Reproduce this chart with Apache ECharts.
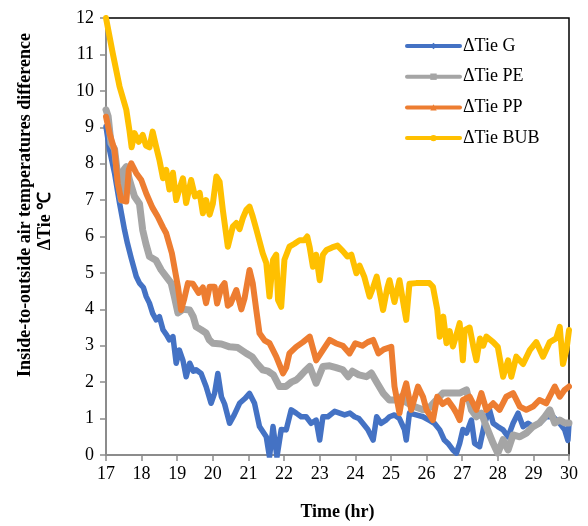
<!DOCTYPE html>
<html>
<head>
<meta charset="utf-8">
<title>Inside-to-outside air temperature difference</title>
<script src="https://cdn.jsdelivr.net/npm/echarts@6/dist/echarts.min.js"></script>
<style>
  html, body { margin: 0; padding: 0; background: #fff; }
  #chart { width: 588px; height: 526px; }
</style>
</head>
<body>
<div id="chart"></div>
<script>
  // 数据: [时间(hr), ΔTie(℃)]
  var seriesNames = ['ΔTie G', 'ΔTie PE', 'ΔTie PP', 'ΔTie BUB'];
  var xTicks = [17, 18, 19, 20, 21, 22, 23, 24, 25, 26, 27, 28, 29, 30];
  var yTicks = [0, 1, 2, 3, 4, 5, 6, 7, 8, 9, 10, 11, 12];

  var dataG = [[17.0,9.02],[17.1,8.38],[17.24,7.74],[17.38,6.92],[17.52,6.18],[17.6,5.82],[17.71,5.4],[17.85,4.9],[17.94,4.72],[18.05,4.6],[18.13,4.35],[18.22,4.17],[18.31,3.89],[18.41,3.71],[18.5,3.8],[18.6,3.44],[18.7,3.3],[18.78,3.16],[18.88,3.25],[18.97,2.52],[19.06,2.88],[19.16,2.6],[19.25,2.15],[19.35,2.52],[19.45,2.3],[19.53,2.34],[19.67,2.24],[19.81,1.88],[19.95,1.42],[20.05,1.7],[20.14,2.24],[20.24,1.6],[20.33,1.4],[20.47,0.87],[20.6,1.1],[20.75,1.42],[20.9,1.55],[21.03,1.69],[21.17,1.42],[21.31,0.78],[21.5,0.5],[21.59,-0.05],[21.69,0.78],[21.8,-0.05],[21.92,0.7],[22.06,0.69],[22.2,1.24],[22.34,1.15],[22.48,1.05],[22.62,1.05],[22.76,0.87],[22.9,0.96],[23.0,0.41],[23.09,1.05],[23.23,1.05],[23.42,1.2],[23.56,1.15],[23.7,1.1],[23.85,1.15],[23.98,1.05],[24.1,1.0],[24.21,0.87],[24.35,0.7],[24.5,0.41],[24.6,1.05],[24.72,0.87],[24.85,0.95],[24.96,1.05],[25.1,1.1],[25.24,1.0],[25.38,0.7],[25.43,0.41],[25.52,1.15],[25.71,1.1],[25.9,1.05],[26.08,0.95],[26.22,0.87],[26.37,0.69],[26.5,0.41],[26.62,0.3],[26.74,0.14],[26.84,0.05],[26.93,0.32],[27.02,0.7],[27.12,0.6],[27.26,0.96],[27.35,0.32],[27.49,0.23],[27.63,0.87],[27.77,1.24],[27.87,0.87],[28.0,0.78],[28.15,0.69],[28.29,0.5],[28.43,0.87],[28.57,1.15],[28.71,0.78],[28.85,0.87],[28.99,0.78],[29.17,0.87],[29.36,1.05],[29.55,1.05],[29.74,0.87],[29.88,0.69],[29.97,0.4],[30.0,0.87]];

  var dataPE = [[17.0,9.48],[17.06,9.3],[17.14,8.56],[17.24,8.4],[17.33,7.65],[17.43,7.0],[17.5,7.83],[17.57,7.92],[17.66,7.55],[17.8,7.1],[17.94,6.9],[18.03,6.18],[18.12,5.8],[18.22,5.45],[18.4,5.35],[18.55,5.08],[18.69,4.9],[18.83,4.72],[18.92,4.35],[19.02,3.9],[19.16,4.0],[19.35,3.98],[19.45,3.8],[19.53,3.52],[19.67,3.44],[19.81,3.35],[19.9,3.16],[20.0,3.07],[20.24,3.05],[20.47,2.97],[20.7,2.95],[20.94,2.79],[21.1,2.7],[21.25,2.5],[21.4,2.34],[21.55,2.3],[21.7,2.2],[21.87,1.88],[22.05,1.88],[22.2,2.0],[22.34,2.06],[22.44,2.15],[22.58,2.3],[22.72,2.43],[22.9,1.97],[23.09,2.43],[23.28,2.45],[23.46,2.4],[23.65,2.34],[23.8,2.15],[23.92,2.3],[24.1,2.2],[24.31,2.15],[24.45,2.25],[24.6,2.0],[24.78,1.7],[24.96,1.51],[25.15,1.51],[25.29,1.6],[25.43,1.45],[25.6,1.35],[25.9,1.24],[26.08,1.3],[26.22,1.45],[26.46,1.7],[26.65,1.7],[26.93,1.7],[27.12,1.79],[27.26,1.24],[27.4,1.05],[27.54,1.15],[27.68,0.78],[27.87,0.32],[28.0,0.05],[28.15,0.42],[28.29,0.14],[28.43,0.55],[28.62,0.5],[28.8,0.6],[28.99,0.78],[29.17,0.88],[29.32,1.05],[29.46,1.24],[29.6,0.88],[29.74,0.96],[29.88,0.88],[30.0,0.88]];

  var dataPP = [[17.0,9.29],[17.1,8.83],[17.24,8.38],[17.33,7.46],[17.43,7.0],[17.57,6.96],[17.64,7.83],[17.71,8.01],[17.85,7.74],[17.99,7.55],[18.13,7.18],[18.3,6.8],[18.45,6.55],[18.6,6.25],[18.69,6.09],[18.85,5.54],[18.95,5.0],[19.02,4.62],[19.11,3.98],[19.2,4.3],[19.3,4.72],[19.44,4.7],[19.6,4.45],[19.72,4.6],[19.81,4.17],[19.91,4.62],[20.05,4.62],[20.12,4.16],[20.24,4.6],[20.33,4.72],[20.42,4.1],[20.5,4.16],[20.66,4.53],[20.8,4.0],[20.89,4.3],[21.03,5.08],[21.12,4.72],[21.22,3.98],[21.31,3.34],[21.45,3.15],[21.59,3.07],[21.78,2.7],[21.97,2.24],[22.06,2.4],[22.15,2.79],[22.34,2.97],[22.53,3.1],[22.72,3.25],[22.9,2.6],[23.09,2.88],[23.28,3.16],[23.45,3.07],[23.65,3.0],[23.84,2.79],[24.0,3.07],[24.2,3.0],[24.35,3.1],[24.5,3.16],[24.65,2.79],[24.8,2.9],[25.01,2.97],[25.1,1.88],[25.24,1.15],[25.32,1.6],[25.43,1.97],[25.57,1.24],[25.76,1.88],[25.9,1.6],[26.0,1.24],[26.18,0.96],[26.3,1.6],[26.45,1.4],[26.6,1.5],[26.75,1.3],[26.84,1.15],[26.93,0.96],[27.02,1.51],[27.21,1.6],[27.4,1.24],[27.54,1.7],[27.68,1.24],[27.87,1.42],[28.05,1.24],[28.24,1.6],[28.43,1.7],[28.62,1.33],[28.8,1.24],[28.99,1.33],[29.17,1.51],[29.36,1.42],[29.6,1.88],[29.74,1.6],[29.88,1.79],[30.0,1.88]];

  var dataBUB = [[17.0,12.0],[17.19,11.03],[17.38,10.12],[17.57,9.48],[17.66,8.9],[17.72,8.45],[17.8,8.84],[17.92,8.6],[18.03,8.79],[18.12,8.5],[18.22,8.45],[18.31,8.88],[18.4,8.5],[18.5,8.1],[18.6,7.6],[18.69,7.83],[18.78,7.29],[18.88,7.75],[18.97,7.0],[19.06,7.3],[19.16,7.6],[19.25,6.92],[19.39,7.55],[19.5,7.1],[19.63,7.2],[19.72,6.64],[19.81,7.0],[19.91,6.6],[20.0,6.9],[20.1,7.65],[20.19,7.5],[20.28,6.73],[20.42,5.72],[20.56,6.27],[20.66,6.37],[20.75,6.2],[20.84,6.5],[20.94,6.73],[21.03,6.82],[21.12,6.55],[21.22,6.2],[21.4,5.54],[21.5,5.27],[21.59,4.35],[21.69,5.36],[21.78,5.5],[21.83,4.26],[21.92,4.07],[22.01,5.36],[22.15,5.72],[22.29,5.8],[22.44,5.9],[22.57,5.9],[22.65,6.0],[22.72,5.7],[22.81,5.17],[22.9,5.5],[23.0,4.8],[23.09,5.5],[23.19,5.63],[23.35,5.7],[23.5,5.75],[23.65,5.6],[23.78,5.45],[23.89,5.5],[24.03,4.99],[24.12,5.2],[24.25,4.9],[24.4,4.35],[24.5,4.6],[24.6,4.9],[24.78,3.98],[24.9,4.6],[24.96,4.8],[25.1,4.2],[25.24,4.8],[25.43,3.71],[25.52,4.7],[25.71,4.72],[25.9,4.72],[26.08,4.72],[26.18,4.62],[26.3,4.0],[26.37,3.25],[26.47,3.8],[26.56,3.07],[26.65,3.4],[26.74,2.98],[26.84,3.3],[26.93,3.62],[27.02,2.6],[27.07,3.43],[27.21,3.5],[27.31,3.0],[27.4,2.6],[27.5,3.2],[27.59,3.0],[27.68,3.25],[27.87,3.1],[28.0,2.97],[28.15,2.15],[28.29,2.6],[28.38,2.15],[28.52,2.7],[28.71,2.5],[28.9,2.88],[29.08,3.1],[29.27,2.7],[29.46,3.1],[29.64,3.2],[29.74,3.52],[29.83,2.5],[29.93,2.9],[30.0,3.43]];

  var font = '"Liberation Serif", "Times New Roman", serif';
  var axisGray = '#8c8c8c';

  function lineSeries(name, data, color, width, symbol) {
    return {
      name: name,
      type: 'line',
      data: data,
      symbol: symbol,
      symbolSize: 5,
      showSymbol: false,
      smooth: false,
      lineStyle: { color: color, width: width, join: 'round', cap: 'round' },
      itemStyle: { color: color },
      emphasis: { disabled: true }
    };
  }

  var chart = echarts.init(document.getElementById('chart'));
  chart.setOption({
    animation: false,
    backgroundColor: '#fff',
    grid: {
      left: 106, right: 19, top: 18, bottom: 71,
      show: true,
      borderColor: '#000',
      borderWidth: 1.5
    },
    legend: {
      orient: 'vertical',
      left: 405,
      top: 37,
      padding: 0,
      itemWidth: 53,
      itemHeight: 8,
      itemGap: 12.7,
      lineStyle: { width: 4 },
      textStyle: { fontFamily: font, fontSize: 18, lineHeight: 18, color: '#000', padding: [0, 0, 0, -2] },
      data: seriesNames
    },
    xAxis: {
      type: 'value',
      min: xTicks[0],
      max: xTicks[xTicks.length - 1],
      interval: 1,
      name: 'Time (hr)',
      nameLocation: 'middle',
      nameGap: 48,
      nameTextStyle: { fontFamily: font, fontSize: 18, fontWeight: 'bold', color: '#000' },
      axisLine: { lineStyle: { color: axisGray, width: 2 } },
      axisTick: { show: true, length: 6, lineStyle: { color: axisGray, width: 1.5 } },
      axisLabel: { fontFamily: font, fontSize: 18, color: '#000', margin: 10 },
      splitLine: { show: false }
    },
    yAxis: {
      type: 'value',
      min: yTicks[0],
      max: yTicks[yTicks.length - 1],
      interval: 1,
      axisLine: { show: true, lineStyle: { color: axisGray, width: 2 } },
      axisTick: { show: true, length: 6, lineStyle: { color: axisGray, width: 1.5 } },
      axisLabel: { fontFamily: font, fontSize: 18, color: '#000', margin: 12 },
      splitLine: { show: false }
    },
    graphic: [
      {
        type: 'text', x: 25, y: 205, rotation: Math.PI / 2,
        style: {
          text: 'Inside-to-outside air temperatures difference',
          fontFamily: font, fontSize: 18, fontWeight: 'bold', fill: '#000',
          align: 'center', verticalAlign: 'middle'
        }
      },
      {
        type: 'text', x: 45, y: 221, rotation: Math.PI / 2,
        style: {
          text: 'ΔTie ℃',
          fontFamily: font, fontSize: 18, fontWeight: 'bold', fill: '#000',
          align: 'center', verticalAlign: 'middle'
        }
      }
    ],
    series: [
      lineSeries(seriesNames[0], dataG, '#4472C4', 5.5, 'diamond'),
      lineSeries(seriesNames[1], dataPE, '#A5A5A5', 7, 'rect'),
      lineSeries(seriesNames[2], dataPP, '#ED7D31', 6, 'triangle'),
      lineSeries(seriesNames[3], dataBUB, '#FFC000', 6, 'circle')
    ]
  });
</script>
</body>
</html>
